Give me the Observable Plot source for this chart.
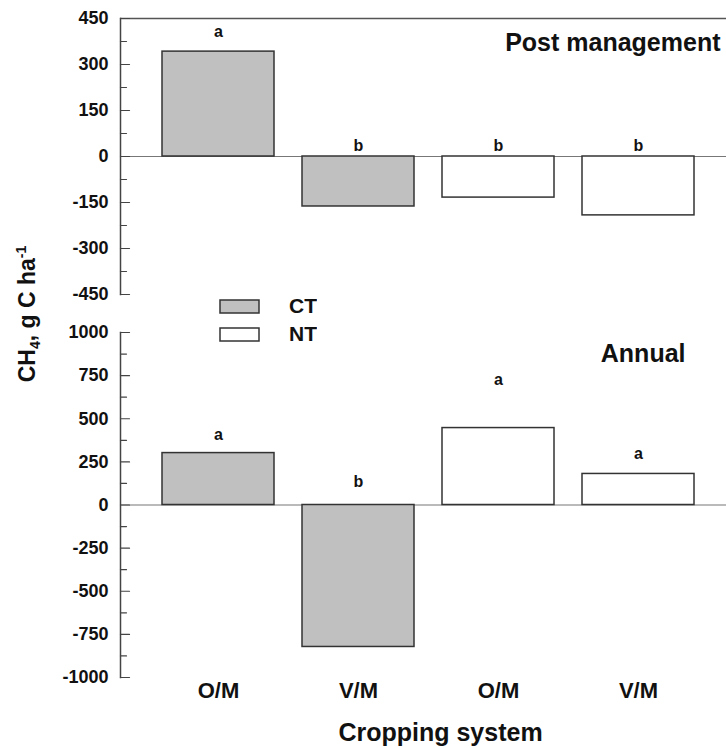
<!DOCTYPE html>
<html><head><meta charset="utf-8">
<script src="https://cdn.jsdelivr.net/npm/d3@7"></script>
<script src="https://cdn.jsdelivr.net/npm/@observablehq/plot@0.6"></script>
<style>
body{margin:0;background:#fff;}
#wrap{position:relative;width:726px;height:748px;overflow:hidden;font-family:"Liberation Sans",Arial,sans-serif;font-weight:bold;color:#111;background:#fff;}
#top,#bottom{position:absolute;left:0;}
#top{top:0}
#bottom{top:300px}
#ylab{position:absolute;left:28px;top:314px;transform:translate(-50%,-50%) rotate(-90deg);font-size:23px;white-space:nowrap;line-height:1;}
#ylab sub,#ylab sup{font-size:14px;}
#legend{position:absolute;left:220px;top:292px;}
#legend, #legend *{font-family:"Liberation Sans",Arial,sans-serif;font-weight:bold;font-size:21px;color:#111;}
#legend .lg-swatch{height:28px;padding:0;display:flex;align-items:center;}
#legend svg{margin-right:30px;overflow:visible;}
#legend svg rect{stroke:#333;stroke-width:1.5px;}
</style></head><body>
<div id="wrap">
  <div id="top"></div>
  <div id="bottom"></div>
  <div id="ylab">CH<sub>4</sub>, g C ha<sup>-1</sup></div>
  <div id="legend"></div>
</div>
<script>
// ---- data ----
const tillage = ["CT", "CT", "NT", "NT"];
const cropping = ["O/M", "V/M", "O/M", "V/M"];
const postValues = [342, -163, -134, -192];
const postLetters = ["a", "b", "b", "b"];
const postLetterY = [408, 36, 36, 36];
const annualValues = [301, -823, 446, 180];
const annualLetters = ["a", "b", "a", "a"];
const annualLetterY = [406, 133, 725, 296];
const postTicks = [-450, -300, -150, 0, 150, 300, 450];
const postMinor = [-375, -225, -75, 75, 225, 375];
const annualTicks = [-1000, -750, -500, -250, 0, 250, 500, 750, 1000];
const annualMinor = [-875, -625, -375, -125, 125, 375, 625, 875];
const tillageNames = ["CT", "NT"];
const tillageColors = ["#c0c0c0", "#ffffff"];

const keys = tillage.map((t, i) => t + " " + cropping[i]);
const postData = keys.map((k, i) => ({key: k, tillage: tillage[i], value: postValues[i], letter: postLetters[i], ly: postLetterY[i]}));
const annualData = keys.map((k, i) => ({key: k, tillage: tillage[i], value: annualValues[i], letter: annualLetters[i], ly: annualLetterY[i]}));

const tickShape = {draw(context, l) { context.moveTo(0, 0); context.lineTo(0, -l); }};
const baseStyle = {fontFamily: '"Liberation Sans", Arial, sans-serif', fontWeight: "bold", fontSize: "18px", color: "#111", background: "transparent", overflow: "visible"};
const xScale = {type: "band", domain: keys, range: [148, 708], paddingInner: 0.2, paddingOuter: 0.1};
const colorScale = {domain: tillageNames, range: tillageColors};

function tickMarks(major, minor) {
  return [
    Plot.vector(major, {y: d => d, frameAnchor: "left", rotate: 90, length: 9, anchor: "start", shape: tickShape, stroke: "#444", strokeWidth: 1.2}),
    Plot.vector(minor, {y: d => d, frameAnchor: "left", rotate: 90, length: 6, anchor: "start", shape: tickShape, stroke: "#444", strokeWidth: 1.2})
  ];
}

const topPlot = Plot.plot({
  width: 726, height: 300,
  marginLeft: 120, marginRight: 0, marginTop: 18, marginBottom: 6,
  style: baseStyle,
  x: {...xScale, axis: null},
  y: {domain: [-450, 450]},
  color: colorScale,
  marks: [
    Plot.ruleY([450], {stroke: "#555", strokeWidth: 1.5}),
    Plot.ruleY([0], {stroke: "#777", strokeWidth: 1.2}),
    Plot.barY(postData, {x: "key", y: "value", fill: "tillage", stroke: "#333", strokeWidth: 1.5}),
    Plot.text(postData, {x: "key", y: "ly", text: "letter", fontSize: 16}),
    Plot.frame({anchor: "left", stroke: "#444", strokeWidth: 1.5}),
    Plot.axisY(postTicks, {tickSize: 0, tickPadding: 12, tickFormat: d => String(d), label: null}),
    ...tickMarks(postTicks, postMinor),
    Plot.text(["Post management"], {text: d => d, frameAnchor: "top-right", lineAnchor: "middle", textAnchor: "end", dx: -6, dy: 24, fontSize: 25})
  ]
});
document.getElementById("top").append(topPlot);

const bottomPlot = Plot.plot({
  width: 726, height: 448,
  marginLeft: 120, marginRight: 0, marginTop: 32, marginBottom: 71,
  style: baseStyle,
  x: xScale,
  y: {domain: [-1000, 1000]},
  color: colorScale,
  marks: [
    Plot.ruleY([0], {stroke: "#777", strokeWidth: 1.2}),
    Plot.barY(annualData, {x: "key", y: "value", fill: "tillage", stroke: "#333", strokeWidth: 1.5}),
    Plot.text(annualData, {x: "key", y: "ly", text: "letter", fontSize: 16}),
    Plot.frame({anchor: "left", stroke: "#444", strokeWidth: 1.5}),
    Plot.axisY(annualTicks, {tickSize: 0, tickPadding: 12, tickFormat: d => String(d), label: null}),
    ...tickMarks(annualTicks, annualMinor),
    Plot.axisX({tickSize: 0, tickPadding: 5, fontSize: 22, tickFormat: d => d.split(" ")[1], label: null}),
    Plot.text(["Annual"], {text: d => d, frameAnchor: "top-right", lineAnchor: "middle", textAnchor: "end", dx: -41, dy: 21, fontSize: 25}),
    Plot.text(["Cropping system"], {text: d => d, frameAnchor: "bottom", lineAnchor: "middle", dx: 17, dy: 55, fontSize: 25})
  ]
});
document.getElementById("bottom").append(bottomPlot);

const legend = Plot.legend({
  color: {type: "ordinal", ...colorScale},
  legend: "swatches", swatchWidth: 39, swatchHeight: 13, columns: 1, className: "lg"
});
document.getElementById("legend").append(legend);
</script>
</body></html>
